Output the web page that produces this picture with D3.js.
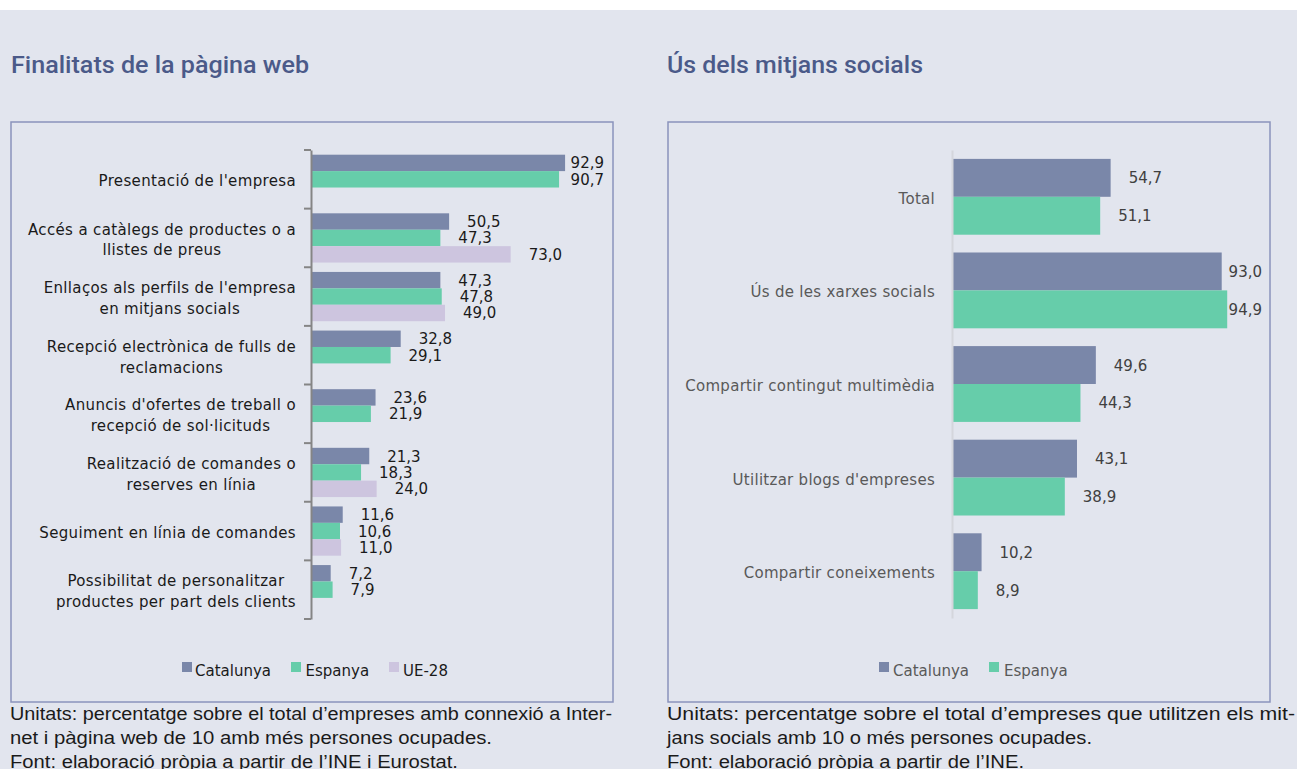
<!DOCTYPE html>
<html>
<head>
<meta charset="utf-8">
<script src="https://cdn.jsdelivr.net/npm/d3@7/dist/d3.min.js"></script>
<style>
  html, body { margin: 0; padding: 0; background: #ffffff; }
  svg { display: block; }
</style>
</head>
<body>
<svg id="chart" width="1297" height="769"></svg>
<script>
// ---------- DATA ----------
const webCategories = [
  "Presentació de l'empresa",
  "Accés a catàlegs de productes o a|llistes de preus",
  "Enllaços als perfils de l'empresa|en mitjans socials",
  "Recepció electrònica de fulls de|reclamacions",
  "Anuncis d'ofertes de treball o|recepció de sol·licituds",
  "Realització de comandes o|reserves en línia",
  "Seguiment en línia de comandes",
  "Possibilitat de personalitzar|productes per part dels clients"
];
const webCatalunya = [92.9, 50.5, 47.3, 32.8, 23.6, 21.3, 11.6, 7.2];
const webEspanya   = [90.7, 47.3, 47.8, 29.1, 21.9, 18.3, 10.6, 7.9];
const webUE28      = [null, 73.0, 49.0, null, null, 24.0, 11.0, null];

const socialCategories = [
  "Total",
  "Ús de les xarxes socials",
  "Compartir contingut multimèdia",
  "Utilitzar blogs d'empreses",
  "Compartir coneixements"
];
const socialCatalunya = [54.7, 93.0, 49.6, 43.1, 10.2];
const socialEspanya   = [51.1, 94.9, 44.3, 38.9, 8.9];

const seriesNames = ["Catalunya", "Espanya", "UE-28"];
const titles = ["Finalitats de la pàgina web", "Ús dels mitjans socials"];
const notesWeb = [
  "Unitats: percentatge sobre el total d\u2019empreses amb connexió a Inter-",
  "net i pàgina web de 10 amb més persones ocupades.",
  "Font: elaboració pròpia a partir de l\u2019INE i Eurostat."
];
const notesSocial = [
  "Unitats: percentatge sobre el total d\u2019empreses que utilitzen els mit-",
  "jans socials amb 10 o més persones ocupades.",
  "Font: elaboració pròpia a partir de l\u2019INE."
];

// ---------- STYLE ----------
const colors = { "Catalunya": "#7a87a9", "Espanya": "#66cdaa", "UE-28": "#cdc5df" };
const BG = "#e2e5ee";
const TITLE_COLOR = "#4b5a89";
const BORDER = "#8a93bc";
const FONT = "'DejaVu Sans', Verdana, sans-serif";
const NOTE_FONT = "'Liberation Sans', Arial, sans-serif";

const locale = d3.formatLocale({ decimal: ",", thousands: ".", grouping: [3], currency: ["", "€"] });
const fmt = locale.format(".1f");

const svg = d3.select("#chart");
svg.append("rect").attr("x", 0).attr("y", 10).attr("width", 1297).attr("height", 759).attr("fill", BG);

function drawPanel(opts) {
  const g = svg.append("g");
  // title
  g.append("text")
    .attr("x", opts.titleX).attr("y", 73)
    .attr("font-family", "Roboto, 'Liberation Sans', sans-serif")
    .attr("font-weight", 500)
    .attr("font-size", 24)
    .attr("fill", TITLE_COLOR)
    .attr("textLength", opts.titleLen).attr("lengthAdjust", "spacingAndGlyphs")
    .text(opts.title);
  // box
  g.append("rect")
    .attr("x", opts.box[0]).attr("y", opts.box[1])
    .attr("width", opts.box[2] - opts.box[0]).attr("height", opts.box[3] - opts.box[1])
    .attr("fill", "none").attr("stroke", BORDER).attr("stroke-width", 1.5);

  const y = d3.scaleBand().domain(d3.range(opts.categories.length))
    .range([opts.yTop, opts.yBottom]).paddingInner(0).paddingOuter(0);
  const x = d3.scaleLinear().domain([0, 100]).range([opts.x0, opts.x0 + opts.xUnit * 100]);
  const bh = y.bandwidth() * (1 - 2 * opts.groupPad) / opts.series.length;
  const off = y.bandwidth() * opts.groupPad;

  opts.series.forEach((s, si) => {
    s.values.forEach((v, i) => {
      if (v == null) return;
      const by = y(i) + off + si * bh;
      g.append("rect")
        .attr("x", x(0)).attr("y", by)
        .attr("width", x(v) - x(0)).attr("height", bh)
        .attr("fill", colors[s.name]);
      const t = g.append("text")
        .attr("x", x(v) + 18).attr("y", by + bh / 2 + 5.5)
        .attr("font-family", FONT).attr("font-size", 15)
        .attr("fill", opts.valueColor)
        .text(fmt(v));
      const w = t.node().getComputedTextLength();
      if (x(v) + 18 + w > opts.labelMax) {
        t.attr("text-anchor", "end").attr("x", opts.labelMax);
      }
    });
  });

  // axis
  const axis = d3.axisLeft(y).tickValues([]).tickSizeOuter(0);
  const ag = g.append("g").attr("transform", `translate(${opts.x0},0)`).call(axis);
  ag.select(".domain").attr("stroke", opts.axisColor).attr("stroke-width", 2);
  if (opts.ticks) {
    const tickYs = d3.range(opts.categories.length).map(i => y(i)).concat([opts.yBottom]);
    ag.selectAll("line.tk").data(tickYs).enter().append("line").attr("class", "tk")
      .attr("x1", -7).attr("x2", 0).attr("y1", d => d).attr("y2", d => d)
      .attr("stroke", opts.axisColor).attr("stroke-width", 2);
  }

  // category labels
  opts.categories.forEach((c, i) => {
    const lines = c.split("|");
    const cy = y(i) + y.bandwidth() / 2 + 1.5;
    const lh = 20.7;
    const tmp = lines.map(l => g.append("text").attr("font-family", FONT).attr("font-size", 15)
        .attr("letter-spacing", opts.catSpacing)
        .attr("fill", opts.catColor).text(l));
    const widths = tmp.map(t => t.node().getComputedTextLength());
    const maxW = d3.max(widths);
    const cx = opts.catRight - maxW / 2;
    tmp.forEach((t, li) => {
      t.attr("text-anchor", "middle").attr("x", cx)
        .attr("y", cy + (li - (lines.length - 1) / 2) * lh + 5.5);
    });
  });

  // legend
  opts.legend.forEach(L => {
    g.append("rect").attr("x", L.sx).attr("y", 662).attr("width", 10).attr("height", 10)
      .attr("fill", colors[L.name]);
    g.append("text").attr("x", L.tx).attr("y", 676)
      .attr("font-family", FONT).attr("font-size", 15).attr("fill", opts.legendColor)
      .text(L.name);
  });

  // notes
  opts.notes.forEach((n, i) => {
    g.append("text").attr("x", opts.box[0] - 1).attr("y", 719.5 + i * 24)
      .attr("font-family", NOTE_FONT).attr("font-size", 17.5).attr("fill", "#1a1a1a")
      .attr("textLength", opts.noteLens[i]).attr("lengthAdjust", "spacingAndGlyphs")
      .text(n);
  });
}

drawPanel({
  title: titles[0], titleX: 11, titleLen: 298,
  box: [11, 122, 613, 702],
  categories: webCategories,
  series: [
    { name: seriesNames[0], values: webCatalunya },
    { name: seriesNames[1], values: webEspanya },
    { name: seriesNames[2], values: webUE28 }
  ],
  yTop: 150, yBottom: 619, x0: 311, xUnit: 2.735, groupPad: 0.08,
  labelMax: 604, valueColor: "#1a1a1a", catColor: "#1a1a1a", catRight: 296, catSpacing: 0.35,
  axisColor: "#858585", ticks: true,
  legend: [
    { name: "Catalunya", sx: 182, tx: 195 },
    { name: "Espanya", sx: 291, tx: 305.5 },
    { name: "UE-28", sx: 389, tx: 403 }
  ],
  legendColor: "#1a1a1a",
  notes: notesWeb, noteLens: [602, 482, 448]
});

drawPanel({
  title: titles[1], titleX: 667, titleLen: 256,
  box: [668, 122, 1270, 702],
  categories: socialCategories,
  series: [
    { name: seriesNames[0], values: socialCatalunya },
    { name: seriesNames[1], values: socialEspanya }
  ],
  yTop: 150, yBottom: 618, x0: 952, xUnit: 2.9, groupPad: 0.095,
  labelMax: 1262, valueColor: "#404040", catColor: "#595959", catRight: 935, catSpacing: 0.28,
  axisColor: "#d4d6dc", ticks: false,
  legend: [
    { name: "Catalunya", sx: 879, tx: 893 },
    { name: "Espanya", sx: 989, tx: 1004 }
  ],
  legendColor: "#595959",
  notes: notesSocial, noteLens: [628, 425, 357]
});
</script>
</body>
</html>
